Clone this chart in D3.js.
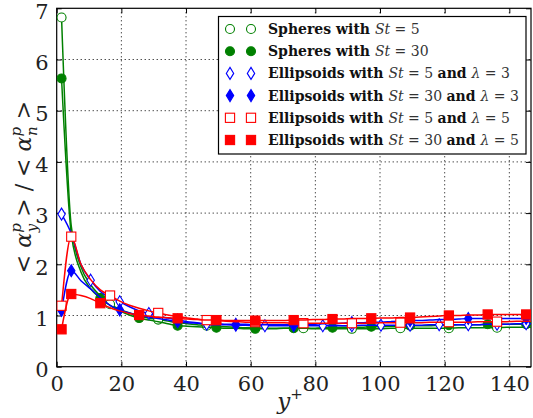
<!DOCTYPE html>
<html><head><meta charset="utf-8">
<script src="https://cdn.jsdelivr.net/npm/d3@7"></script>
<style>
html,body{margin:0;padding:0;background:#fff;}
svg{display:block;}
</style></head>
<body>
<svg id="chart" width="533" height="418"></svg>
<script>
// ---- data ----
const yPlus = [1.5,4.5,7.5,10.5,13.5,16.5,19.5,22.5,25.5,28.5,31.4,34.4,37.4,40.4,43.4,46.4,49.4,52.4,55.4,58.4,
  61.4,64.4,67.4,70.3,73.3,76.3,79.3,82.3,85.3,88.3,91.3,94.3,97.3,100.3,103.3,106.3,109.3,112.3,115.3,118.3,
  121.3,124.3,127.3,130.3,133.3,136.2,139.2,142.2,145.2,148.2];

const sphSt5 = [6.82,2.75,1.95,1.60,1.38,1.22,1.12,1.05,0.99,0.95,0.92,0.89,0.86,0.84,0.82,0.80,0.79,0.78,0.77,0.76,
  0.76,0.75,0.75,0.75,0.75,0.75,0.74,0.74,0.74,0.74,0.74,0.74,0.74,0.74,0.75,0.75,0.75,0.75,0.75,0.75,
  0.75,0.76,0.76,0.76,0.76,0.76,0.77,0.77,0.77,0.77];
const sphSt30 = [5.63,2.60,1.85,1.52,1.34,1.20,1.09,1.01,0.95,0.91,0.88,0.84,0.80,0.79,0.78,0.77,0.76,0.75,0.75,0.74,
  0.74,0.74,0.74,0.75,0.75,0.75,0.75,0.76,0.76,0.77,0.77,0.77,0.78,0.78,0.79,0.79,0.80,0.80,0.80,0.81,
  0.81,0.82,0.82,0.82,0.83,0.83,0.83,0.83,0.83,0.83];
const ellSt5L3 = [2.98,2.60,2.00,1.69,1.47,1.35,1.27,1.17,1.09,1.04,0.99,0.95,0.91,0.88,0.86,0.83,0.82,0.82,0.81,0.81,
  0.80,0.80,0.80,0.80,0.80,0.80,0.80,0.80,0.80,0.80,0.80,0.81,0.81,0.81,0.81,0.81,0.81,0.81,0.82,0.82,
  0.82,0.82,0.82,0.82,0.83,0.83,0.83,0.84,0.84,0.84];
const ellSt30L3 = [1.10,1.875,1.68,1.52,1.35,1.20,1.11,1.05,1.00,0.97,0.94,0.91,0.88,0.86,0.85,0.84,0.84,0.83,0.83,0.83,
  0.82,0.82,0.82,0.82,0.82,0.83,0.83,0.84,0.84,0.85,0.86,0.86,0.87,0.87,0.88,0.89,0.90,0.90,0.91,0.92,
  0.92,0.93,0.94,0.94,0.94,0.94,0.94,0.94,0.94,0.94];
const ellSt5L5 = [1.19,2.54,2.00,1.70,1.50,1.39,1.28,1.20,1.14,1.09,1.05,1.01,0.98,0.95,0.93,0.91,0.90,0.89,0.88,0.87,
  0.87,0.86,0.86,0.86,0.85,0.85,0.85,0.85,0.85,0.85,0.85,0.85,0.85,0.86,0.86,0.86,0.86,0.86,0.87,0.87,
  0.87,0.87,0.87,0.88,0.88,0.88,0.88,0.89,0.89,0.89];
const ellSt30L5 = [0.73,1.42,1.39,1.33,1.24,1.15,1.09,1.04,1.01,0.99,0.97,0.955,0.945,0.93,0.92,0.91,0.91,0.90,0.90,0.90,
  0.90,0.90,0.90,0.90,0.91,0.91,0.92,0.92,0.93,0.93,0.94,0.94,0.945,0.95,0.95,0.96,0.96,0.97,0.98,0.99,
  1.00,1.00,1.01,1.01,1.02,1.02,1.02,1.02,1.02,1.02];

// marker placement (index lists)
const markEvery = [5, 4, 3, 6, 5, 4];
const markExtra = [[], [], [], [1], [1], [1]];

const legendLabels = [
  [["b","Spheres with "],["i","St"],["n"," = 5"]],
  [["b","Spheres with "],["i","St"],["n"," = 30"]],
  [["b","Ellipsoids with "],["i","St"],["n"," = 5 "],["b","and "],["i","λ"],["n"," = 3"]],
  [["b","Ellipsoids with "],["i","St"],["n"," = 30 "],["b","and "],["i","λ"],["n"," = 3"]],
  [["b","Ellipsoids with "],["i","St"],["n"," = 5 "],["b","and "],["i","λ"],["n"," = 5"]],
  [["b","Ellipsoids with "],["i","St"],["n"," = 30 "],["b","and "],["i","λ"],["n"," = 5"]]
];
const xTicks = [0,20,40,60,80,100,120,140];
const yTicks = [0,1,2,3,4,5,6,7];

// ---- styles ----
const FONT = "'DejaVu Serif'";
const seriesData = [sphSt5, sphSt30, ellSt5L3, ellSt30L3, ellSt5L5, ellSt30L5];
const colors = ["#008000","#008000","#0000ff","#0000ff","#ff0000","#ff0000"];
const shapes = ["circle","circle","diamond","diamond","square","square"];
const filled = [false,true,false,true,false,true];

const svg = d3.select("#chart").style("font-family", FONT);
const L = 56.7, R = 531, T = 8.3, B = 366.7;
const x = d3.scaleLinear().domain([0,146.7]).range([L,R]);
const y = d3.scaleLinear().domain([0,7]).range([B,T]);

svg.append("defs").append("clipPath").attr("id","clip")
  .append("rect").attr("x",L).attr("y",T).attr("width",R-L).attr("height",B-T);

// grid
const grid = svg.append("g").attr("stroke","#000").attr("stroke-width",1).attr("stroke-dasharray","1,3");
xTicks.forEach(t => { if (t>0) grid.append("line").attr("x1",x(t)).attr("x2",x(t)).attr("y1",T).attr("y2",B); });
yTicks.forEach(t => { if (t>0 && t<7) grid.append("line").attr("x1",L).attr("x2",R).attr("y1",y(t)).attr("y2",y(t)); });

// axes (inward ticks on all sides)
const fs = 21;
const fmt = d3.format("d");
const axB = svg.append("g").attr("transform",`translate(0,${B})`)
  .call(d3.axisBottom(x).tickValues(xTicks).tickFormat(fmt).tickSizeInner(-5).tickSizeOuter(0).tickPadding(9));
const axT = svg.append("g").attr("transform",`translate(0,${T})`)
  .call(d3.axisTop(x).tickValues(xTicks).tickSizeInner(-5).tickSizeOuter(0).tickFormat(""));
const axL = svg.append("g").attr("transform",`translate(${L},0)`)
  .call(d3.axisLeft(y).tickValues(yTicks).tickFormat(fmt).tickSizeInner(-5).tickSizeOuter(0).tickPadding(8));
const axR = svg.append("g").attr("transform",`translate(${R},0)`)
  .call(d3.axisRight(y).tickValues(yTicks).tickSizeInner(-5).tickSizeOuter(0).tickFormat(""));
[axB,axT,axL,axR].forEach(a => {
  a.attr("font-family", FONT).attr("font-size", fs);
  a.select(".domain").remove();
  a.selectAll("line").attr("stroke","#000").attr("stroke-width",1);
  a.selectAll("text").style("font-family", FONT).attr("fill","#222");
});
axB.selectAll("text").attr("dy","0.72em");
axL.selectAll("text").attr("y",3);
svg.append("rect").attr("x",L).attr("y",T).attr("width",R-L).attr("height",B-T)
  .attr("fill","none").attr("stroke","#000").attr("stroke-width",1.2);

// markers
function drawMarker(g, cx, cy, shape, color, fill) {
  const f = fill ? color : "#fff";
  if (shape === "circle") {
    g.append("circle").attr("cx",cx).attr("cy",cy).attr("r",4.5)
      .attr("fill",f).attr("stroke",color).attr("stroke-width",1.1);
  } else if (shape === "square") {
    g.append("rect").attr("x",cx-4.6).attr("y",cy-4.6).attr("width",9.2).attr("height",9.2)
      .attr("fill",f).attr("stroke",color).attr("stroke-width",1.1);
  } else {
    g.append("path").attr("d",`M${cx},${cy-6}L${cx+3.7},${cy}L${cx},${cy+6}L${cx-3.7},${cy}Z`)
      .attr("fill",f).attr("stroke",color).attr("stroke-width",1.1);
  }
}

const plot = svg.append("g").attr("clip-path","url(#clip)");
const line = d3.line().x(d=>x(d[0])).y(d=>y(d[1])).curve(d3.curveMonotoneX);
seriesData.forEach((vals, s) => {
  const pts = yPlus.map((xv,i)=>[xv, vals[i]]);
  plot.append("path").attr("d", line(pts)).attr("fill","none")
    .attr("stroke",colors[s]).attr("stroke-width",1.5);
  const mg = plot.append("g");
  pts.forEach((p,i) => {
    if ((i % markEvery[s] === 0 || markExtra[s].includes(i)) && p[0] < 147)
      drawMarker(mg, x(p[0]), y(p[1]), shapes[s], colors[s], filled[s]);
  });
});

// legend
const lg = svg.append("g");
lg.append("rect").attr("x",218.5).attr("y",16.5).attr("width",307.5).attr("height",137.5)
  .attr("fill","#fff").attr("stroke","#000").attr("stroke-width",1.2);
legendLabels.forEach((parts, s) => {
  const cy = 29 + s*22.2;
  drawMarker(lg, 230, cy, shapes[s], colors[s], filled[s]);
  drawMarker(lg, 251, cy, shapes[s], colors[s], filled[s]);
  const t = lg.append("text").attr("x",268).attr("y",cy+5).attr("font-size",14).attr("fill","#111")
    .style("font-family", FONT).attr("xml:space","preserve");
  parts.forEach(([k,str]) => {
    const ts = t.append("tspan").text(str);
    if (k==="b") ts.attr("font-weight","bold");
    if (k==="i") ts.attr("font-style","italic").attr("fill","#333");
    if (k==="n") ts.attr("fill","#333");
  });
});

// axis labels
const xl = svg.append("text").attr("x",290).attr("y",409).attr("text-anchor","middle")
  .attr("font-size",23).attr("fill","#222").style("font-family", FONT);
xl.append("tspan").attr("font-style","italic").text("y");
xl.append("tspan").attr("font-size",15).attr("dy",-10).text("+");

const yl = svg.append("text").attr("transform","translate(31,187) rotate(-90)")
  .attr("text-anchor","middle").attr("font-size",22).attr("fill","#222")
  .style("font-family", FONT).attr("xml:space","preserve");
function alphaPart(sub) {
  yl.append("tspan").text("< ");
  yl.append("tspan").attr("font-style","italic").text("α");
  yl.append("tspan").attr("font-style","italic").attr("font-size",15).attr("dy",-10).text("p");
  yl.append("tspan").attr("font-style","italic").attr("font-size",15).attr("dx",-9).attr("dy",16).text(sub);
  yl.append("tspan").attr("dy",-6).text(" >");
}
alphaPart("y");
yl.append("tspan").text(" / ");
alphaPart("n");
</script>
</body></html>
